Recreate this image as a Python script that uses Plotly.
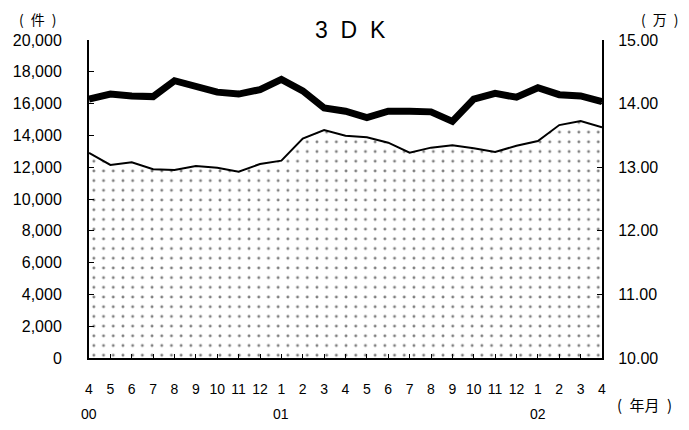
import plotly.graph_objects as go

months = ["4","5","6","7","8","9","10","11","12","1","2","3","4","5","6","7","8","9","10","11","12","1","2","3","4"]
year_labels = {0: "00", 9: "01", 21: "02"}
count_values = [12900, 12140, 12310, 11870, 11820, 12080, 11970, 11720, 12200, 12410, 13800, 14340,
                13980, 13880, 13540, 12910, 13230, 13380, 13190, 12960, 13350, 13650, 14650, 14900, 14510]
price_values = [14.07, 14.15, 14.12, 14.11, 14.36, 14.26, 14.18, 14.15, 14.22, 14.38, 14.20, 13.93,
                13.88, 13.78, 13.88, 13.88, 13.87, 13.72, 14.07, 14.16, 14.10, 14.25, 14.14, 14.12, 14.03]
left_ticks = [0, 2000, 4000, 6000, 8000, 10000, 12000, 14000, 16000, 18000, 20000]
right_ticks = [10.0, 11.0, 12.0, 13.0, 14.0, 15.0]

x = list(range(len(months)))
FONT = "Liberation Sans, Noto Sans CJK JP, sans-serif"
CJK = "Noto Sans CJK JP, sans-serif"

# page has an 8px body margin; plot area target on screen: x 89..602, y 40..358
OFF = 8
L, R, T, B = 89, 602, 40, 358
W, H = 689 - OFF, 430 - OFF

fig = go.Figure()
fig.add_trace(go.Scatter(
    x=x, y=count_values, mode="lines", fill="tozeroy",
    line=dict(color="black", width=2),
    fillcolor="white",
    fillpattern=dict(shape=".", size=9.7, solidity=0.07, fgcolor="black", bgcolor="white"),
    showlegend=False, hoverinfo="skip"))
fig.add_trace(go.Scatter(
    x=x, y=price_values, mode="lines", yaxis="y2",
    line=dict(color="black", width=7),
    showlegend=False, hoverinfo="skip"))

fig.update_layout(
    width=W, height=H,
    margin=dict(l=L - OFF, r=W - (R - OFF), t=T - OFF, b=H - (B - OFF), autoexpand=False),
    paper_bgcolor="white", plot_bgcolor="white",
    font=dict(family=FONT, size=16, color="black"),
    xaxis=dict(range=[0, 24], tickmode="array", tickvals=x, ticktext=months,
               showline=True, linecolor="black", linewidth=2, ticks="inside", ticklen=4,
               tickcolor="black", showgrid=False, zeroline=False, ticklabelstandoff=17,
               tickfont=dict(size=14)),
    yaxis=dict(range=[0, 20000], tickmode="array", tickvals=left_ticks,
               ticktext=[f"{v:,}" for v in left_ticks],
               showline=True, linecolor="black", linewidth=2, ticks="inside", ticklen=5,
               tickcolor="black", showgrid=False, zeroline=False, ticklabelstandoff=22),
    yaxis2=dict(range=[10, 15], overlaying="y", side="right", tickmode="array",
                tickvals=right_ticks, ticktext=[f"{v:.2f}" for v in right_ticks],
                showline=True, linecolor="black", linewidth=2, ticks="inside", ticklen=5,
                tickcolor="black", showgrid=False, zeroline=False, ticklabelstandoff=11),
)

pw, ph = R - L, B - T

def px2paper(sx, sy):
    return (sx - L) / pw, (B - sy) / ph

annotations = []
for text, sx, sy, size, fam in [
    ("3\u00a0\u00a0D\u00a0\u00a0K", 350, 30, 23, FONT),
    ("(\u2002件\u2002)", 37, 19, 14, CJK),
    ("(\u2002万\u2002)", 659, 19, 14, CJK),
    ("(\u2002年月\u2002)", 644, 404, 15, CJK),
]:
    ax, ay = px2paper(sx, sy)
    annotations.append(dict(text=text, x=ax, y=ay, xref="paper", yref="paper",
                            xanchor="center", yanchor="middle", showarrow=False,
                            font=dict(size=size, family=fam)))
for i, lab in year_labels.items():
    annotations.append(dict(text=lab, x=i, xref="x", y=px2paper(0, 414)[1], yref="paper",
                            xanchor="center", yanchor="middle", showarrow=False,
                            font=dict(size=14)))
fig.update_layout(annotations=annotations)

fig.write_html("out.html")
